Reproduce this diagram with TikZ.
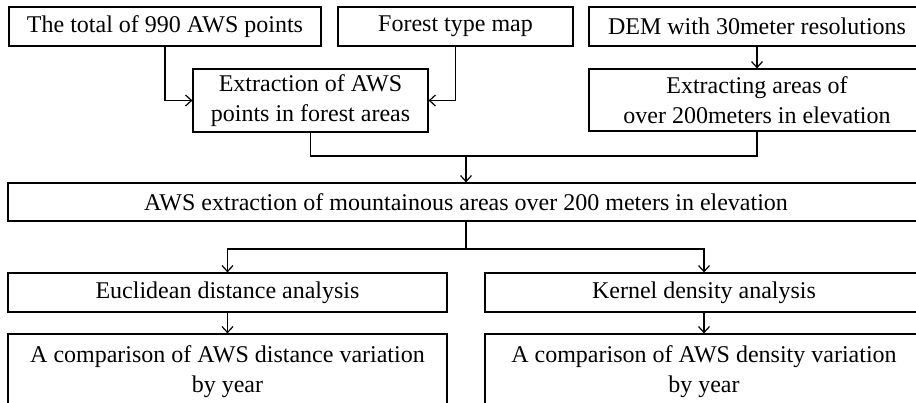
\documentclass[tikz,border=0pt]{standalone}
\usepackage{fontspec}
\setmainfont{Liberation Serif}
\usetikzlibrary{arrows.meta}
\begin{document}
\begin{tikzpicture}[x=1pt,y=-1pt,
  box/.style={draw=black, line width=1.2pt, rectangle, inner sep=0pt, align=center,
    font=\fontsize{24}{30}\selectfont},
  conn/.style={line width=1.2pt},
  arr/.style={line width=1.2pt, -{Straight Barb[length=6pt,width=11pt,line width=1.2pt]}}]
\useasboundingbox (0,0) rectangle (916,402);
\clip (0,0) rectangle (916,402);
\node[box, minimum width=312pt, minimum height=39pt] (b1) at (165,26.5) {The total of 990 AWS points};
\node[box, minimum width=235pt, minimum height=39pt] (b2) at (455.5,26.5) {Forest type map};
\node[box, minimum width=336pt, minimum height=39pt] (b3) at (757,26.5) {DEM with 30meter resolutions};
\node[box, minimum width=235pt, minimum height=63pt] (b4) at (310.5,100.5) {Extraction of AWS\\points in forest areas};
\node[box, minimum width=336pt, minimum height=62pt] (b5) at (757,100) {Extracting areas of\\over 200meters in elevation};
\node[box, minimum width=916pt, minimum height=38pt] (b6) at (466,202) {AWS extraction of mountainous areas over 200 meters in elevation};
\node[box, minimum width=439pt, minimum height=39pt] (b7) at (227.5,292.5) {Euclidean distance analysis};
\node[box, minimum width=438pt, minimum height=39pt] (b8) at (704,292.5) {Kernel density analysis};
\node[box, minimum width=439pt, minimum height=76pt] (b9) at (227.5,372) {A comparison of AWS distance variation\\by year};
\node[box, minimum width=438pt, minimum height=76pt] (b10) at (704,372) {A comparison of AWS density variation\\by year};
\coordinate (j1) at (466,156);
\coordinate (j2) at (466,249);
\draw[arr] (b1.south) |- (b4.west);
\draw[arr] (b2.south) |- (b4.east);
\draw[arr] (b3.south) -- (b5.north);
\draw[conn] (b4.south) |- (j1) -| (b5.south);
\draw[arr] (j1) -- (b6.north);
\draw[conn] (b6.south) -- (j2);
\draw[arr] (j2) -| (b7.north);
\draw[arr] (j2) -| (b8.north);
\draw[arr] (b7.south) -- (b9.north);
\draw[arr] (b8.south) -- (b10.north);
\end{tikzpicture}
\end{document}
